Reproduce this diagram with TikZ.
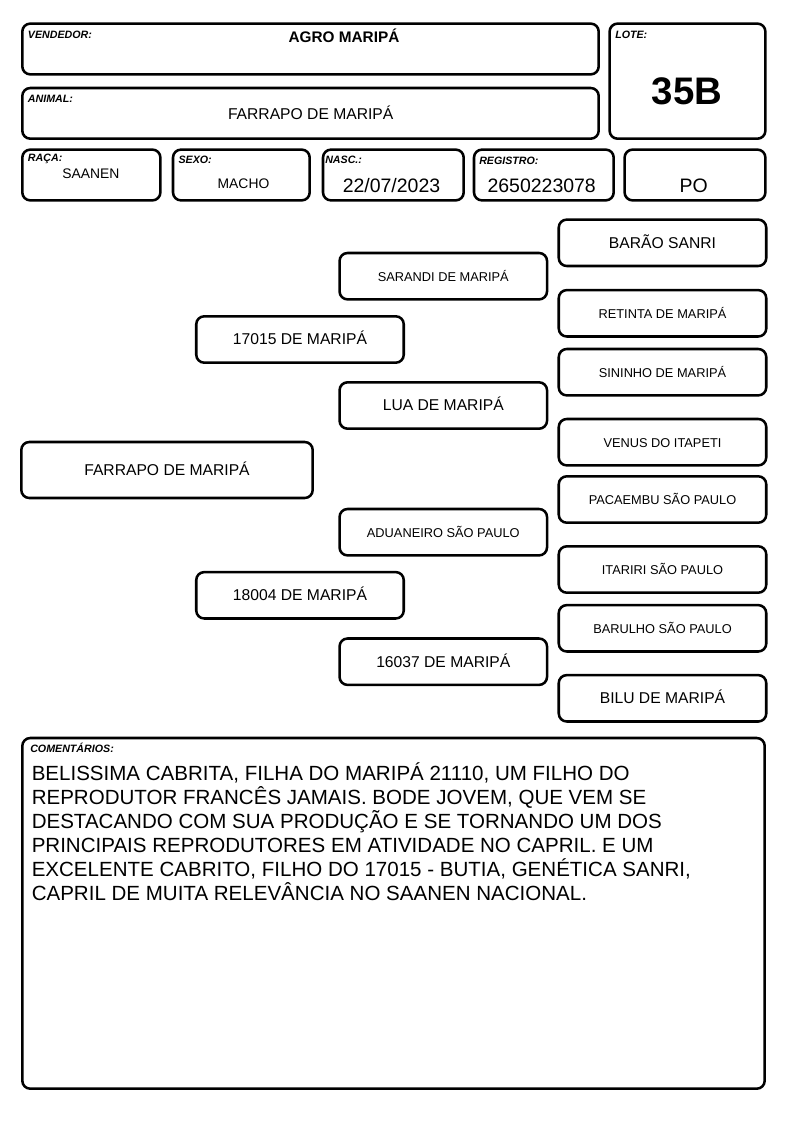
\documentclass[tikz,border=0pt]{standalone}
\usepackage{fontspec}
\setmainfont{Liberation Sans}
\begin{document}
\begin{tikzpicture}[x=0.75pt,y=-0.75pt,
  box/.style={draw=black, line width=1.9pt, rounded corners=6pt, inner sep=0pt},
  wh/.style 2 args={minimum width=#1*0.75pt, minimum height=#2*0.75pt},
  ped/.style={box, wh={207.5}{46.4}, text height=0.8em, text depth=0pt, align=center},
  big/.style={font=\fontsize{11.75}{14}\selectfont},
  small/.style={font=\fontsize{9.6}{12}\selectfont},
  lbl/.style={anchor=base west, inner sep=0pt, font=\fontsize{8}{9}\selectfont\bfseries\itshape},
  val/.style={anchor=base, inner sep=0pt},
  midval/.style={val, font=\fontsize{10.4}{12}\selectfont},
  bigval/.style={val, font=\fontsize{14.6}{17}\selectfont},
  comm/.style={anchor=base west, inner sep=0pt, font=\fontsize{15.4}{18}\selectfont}]
\useasboundingbox (0,0) rectangle (794,1123);

% header boxes
\node[box, wh={576.4}{50.8}] (vend) at (310.5,49) {};
\node[box, wh={576.4}{50.7}] (anim) at (310.5,113.35) {};
\node[box, wh={155.8}{115.1}] (lote) at (687.5,81.15) {};
\node[box, wh={138.1}{50.8}] (raca) at (91.35,175) {};
\node[box, wh={136.7}{50.8}] (sexo) at (241.35,175) {};
\node[box, wh={140.7}{50.8}] (nasc) at (393.35,175) {};
\node[box, wh={139.7}{50.8}] (reg) at (543.85,175) {};
\node[box, wh={140.8}{50.8}] (po) at (695,175) {};

% header labels
\node[lbl] (vendl) at (27.7,38.3) {VENDEDOR:};
\node[lbl] (lotel) at (615,39) {LOTE:};
\node[lbl] (animl) at (27.7,102.3) {ANIMAL:};
\node[lbl] (racal) at (27.7,161.7) {RAÇA:};
\node[lbl] (sexol) at (178.3,164) {SEXO:};
\node[lbl] (nascl) at (325,164) {NASC.:};
\node[lbl] (regl) at (479,165) {REGISTRO:};

% header values
\node[val, font=\fontsize{11.5}{13}\selectfont\bfseries] (vendv) at (344,42.5) {AGRO MARIPÁ};
\node[val, font=\fontsize{11.75}{14}\selectfont] (animv) at (310.7,119.5) {FARRAPO DE MARIPÁ};
\node[val, font=\fontsize{28.8}{32}\selectfont\bfseries] (lotev) at (687,104.8) {35B};
\node[midval] (racav) at (91,178.3) {SAANEN};
\node[midval] (sexov) at (243.5,189) {MACHO};
\node[bigval] (nascv) at (391.5,192.5) {22/07/2023};
\node[bigval] (regv) at (541.7,192.5) {2650223078};
\node[bigval] (pov) at (693.8,192.5) {PO};

% pedigree
\node[box, wh={291.4}{56}, big, text height=0.8em, text depth=0pt] (p0) at (167,470) {FARRAPO DE MARIPÁ};
\node[ped, big] (p1) at (300,339.5) {17015 DE MARIPÁ};
\node[ped, big] (p2) at (300,595.3) {18004 DE MARIPÁ};
\node[ped, small] (p3) at (443.3,276.2) {SARANDI DE MARIPÁ};
\node[ped, big] (p4) at (443.3,405.5) {LUA DE MARIPÁ};
\node[ped, small] (p5) at (443.3,532.2) {ADUANEIRO SÃO PAULO};
\node[ped, big] (p6) at (443.3,661.7) {16037 DE MARIPÁ};
\node[ped, big] (p7) at (662.5,242.8) {BARÃO SANRI};
\node[ped, small] (p8) at (662.5,313.3) {RETINTA DE MARIPÁ};
\node[ped, small] (p9) at (662.5,372.2) {SININHO DE MARIPÁ};
\node[ped, small] (p10) at (662.5,442.2) {VENUS DO ITAPETI};
\node[ped, small] (p11) at (662.5,499.5) {PACAEMBU SÃO PAULO};
\node[ped, small] (p12) at (662.5,569.5) {ITARIRI SÃO PAULO};
\node[ped, small] (p13) at (662.5,628.3) {BARULHO SÃO PAULO};
\node[ped, big] (p14) at (662.5,698.3) {BILU DE MARIPÁ};

% comments
\node[box, wh={742.4}{350.7}] (com) at (393.5,913.35) {};
\node[lbl] (coml) at (30,752.7) {COMENTÁRIOS:};
\node[comm] (c1) at (31.5,780.7) {BELISSIMA CABRITA, FILHA DO MARIPÁ 21110, UM FILHO DO};
\node[comm] (c2) at (31.5,804.7) {REPRODUTOR FRANCÊS JAMAIS. BODE JOVEM, QUE VEM SE};
\node[comm] (c3) at (31.5,828.7) {DESTACANDO COM SUA PRODUÇÃO E SE TORNANDO UM DOS};
\node[comm] (c4) at (31.5,852.7) {PRINCIPAIS REPRODUTORES EM ATIVIDADE NO CAPRIL. E UM};
\node[comm] (c5) at (31.5,876.7) {EXCELENTE CABRITO, FILHO DO 17015 - BUTIA, GENÉTICA SANRI,};
\node[comm] (c6) at (31.5,900.7) {CAPRIL DE MUITA RELEVÂNCIA NO SAANEN NACIONAL.};
\end{tikzpicture}
\end{document}
